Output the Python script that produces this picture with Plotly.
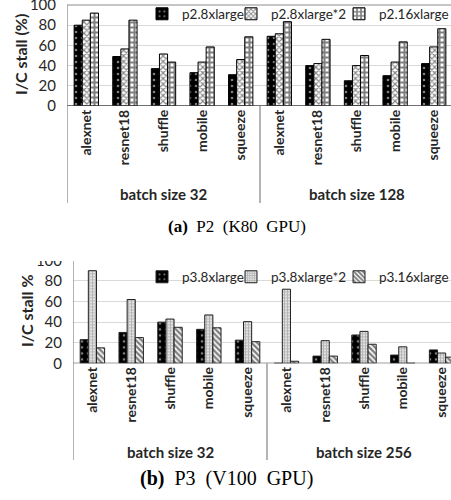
import plotly.graph_objects as go

# ---------------- data ----------------
MODELS = ["alexnet", "resnet18", "shuffle", "mobile", "squeeze"]

P2_BATCHES = ["batch size 32", "batch size 128"]
P2_SERIES = ["p2.8xlarge", "p2.8xlarge*2", "p2.16xlarge"]
p2_8xlarge = [80, 49, 37, 33, 31, 69, 40, 25, 30, 42]
p2_8xlarge_x2 = [85, 56.5, 51.5, 43.5, 46, 71.5, 42, 40, 43.5, 58.5]
p2_16xlarge = [92, 85, 43.5, 58.5, 68.5, 83.5, 66, 50, 63.5, 76.5]

P3_BATCHES = ["batch size 32", "batch size 256"]
P3_SERIES = ["p3.8xlarge", "p3.8xlarge*2", "p3.16xlarge"]
p3_8xlarge = [23, 30, 40, 33, 22.5, 0, 7, 27.5, 8, 13]
p3_8xlarge_x2 = [90, 62, 43, 47, 40.5, 72, 22, 31, 16, 10]
p3_16xlarge = [15, 25, 35, 34.5, 21, 2, 7, 18.5, 0, 6]

Y_TICKS = [0, 20, 40, 60, 80, 100]

# ---------------- helpers ----------------
W, H = 451, 500
FONT = "Lato"
TXT = "#262626"


def py(px):
    return 1 - px / H


def pxx(px):
    return px / W


def positions(batches):
    return list(range(len(MODELS) * len(batches)))


STYLES = [
    dict(color="black", pattern=dict(shape=".", fgcolor="white", bgcolor="black",
                                     size=6, solidity=0.15, fillmode="overlay")),
    dict(color="white", pattern=dict(shape="x", fgcolor="#111111", bgcolor="white",
                                     size=4, solidity=0.5, fillmode="overlay")),
    dict(color="white", pattern=dict(shape="+", fgcolor="black", bgcolor="white",
                                     size=5, solidity=0.65, fillmode="overlay")),
]
STYLES_P3 = [
    STYLES[0],
    dict(color="white", pattern=dict(shape="+", fgcolor="#6e6e6e", bgcolor="white",
                                     size=3, solidity=0.7, fillmode="overlay")),
    dict(color="white", pattern=dict(shape="\\", fgcolor="black", bgcolor="white",
                                     size=4, solidity=0.6, fillmode="overlay")),
]

# legend text start positions (px) for each series
P2_LEG_X = [172, 261, 369]
P3_LEG_X = [172, 261, 369]

fig = go.Figure()
legend_layouts = {}

xs2 = positions(P2_BATCHES)
for i, (name, vals, st) in enumerate(zip(P2_SERIES, [p2_8xlarge, p2_8xlarge_x2, p2_16xlarge], STYLES)):
    lg = "legend" if i == 0 else "legend%d" % (i + 1)
    fig.add_trace(go.Bar(
        x=xs2, y=vals, name=name, xaxis="x", yaxis="y", legend=lg,
        marker=dict(color=st["color"], pattern=st["pattern"],
                    line=dict(color="black", width=1)),
    ))
    legend_layouts[lg] = dict(x=pxx(P2_LEG_X[i] - 30), y=py(14))

xs3 = positions(P3_BATCHES)
for i, (name, vals, st) in enumerate(zip(P3_SERIES, [p3_8xlarge, p3_8xlarge_x2, p3_16xlarge], STYLES_P3)):
    lg = "legend%d" % (i + 4)
    fig.add_trace(go.Bar(
        x=xs3, y=vals, name=name, xaxis="x2", yaxis="y2", legend=lg,
        marker=dict(color=st["color"], pattern=st["pattern"],
                    line=dict(color="#222222", width=1)),
    ))
    legend_layouts[lg] = dict(x=pxx(P3_LEG_X[i] - 30), y=py(277))

for lg, pos in legend_layouts.items():
    fig.update_layout({lg: dict(orientation="h", x=pos["x"], y=pos["y"], xanchor="left",
                                yanchor="middle", bgcolor="rgba(0,0,0,0)",
                                font=dict(family=FONT, size=13.5, color=TXT), itemwidth=30)})

ticktext2 = ["<b>%s</b>" % m for m in MODELS] * len(P2_BATCHES)
ticktext3 = ["<b>%s</b>" % m for m in MODELS] * len(P3_BATCHES)

xaxis_common = dict(
    tickmode="array", tickangle=-90, showgrid=False, zeroline=False,
    showline=False, ticks="", automargin=False,
    tickfont=dict(family=FONT, size=14, color=TXT),
)
yaxis_common = dict(
    range=[0, 100], tickvals=Y_TICKS, showgrid=True, gridcolor="#d9d9d9",
    gridwidth=1, zeroline=False, showline=False, ticks="", automargin=False,
    ticklabelstandoff=10, ticklabeloverflow="allow",
    tickfont=dict(family=FONT, size=15, color=TXT),
)

n2 = len(xs2)
n3 = len(xs3)

fig.update_layout(
    width=W, height=H,
    margin=dict(l=0, r=0, t=0, b=0, autoexpand=False),
    paper_bgcolor="white", plot_bgcolor="white",
    barmode="group", bargap=0.37, bargroupgap=0,
    xaxis=dict(xaxis_common, domain=[pxx(67), 1], range=[-0.5, n2 - 0.5 - 2 / 38.6],
               tickvals=xs2, ticktext=ticktext2, anchor="y"),
    yaxis=dict(yaxis_common, domain=[py(106), py(5)], anchor="x"),
    xaxis2=dict(xaxis_common, domain=[pxx(73), 1], range=[-0.5, n3 - 0.5 - 10 / 38.8],
                tickvals=xs3, ticktext=ticktext3, anchor="y2"),
    yaxis2=dict(yaxis_common, domain=[py(363.3), py(260.4)], anchor="x2"),
    showlegend=True,
)

shapes = []
# top chart frame / axis lines / dividers
shapes.append(dict(type="line", xref="paper", yref="paper", x0=pxx(67), x1=1, y0=py(5), y1=py(5),
                   line=dict(color="#8c8c8c", width=1)))
shapes.append(dict(type="line", xref="x", yref="y", x0=-0.5, x1=n2, y0=0, y1=0,
                   line=dict(color="#404040", width=1.3)))
shapes.append(dict(type="line", xref="x", yref="paper", x0=-0.5, x1=-0.5, y0=py(5), y1=py(203),
                   line=dict(color="#8c8c8c", width=1.3)))
for k in range(1, len(P2_BATCHES)):
    xd = k * len(MODELS) - 0.5
    shapes.append(dict(type="line", xref="x", yref="paper", x0=xd, x1=xd, y0=py(106), y1=py(203),
                       line=dict(color="#8c8c8c", width=1.3)))
# bottom chart
shapes.append(dict(type="line", xref="x2", yref="y2", x0=-0.5, x1=n3, y0=0, y1=0,
                   line=dict(color="#404040", width=1.3)))
shapes.append(dict(type="line", xref="x2", yref="paper", x0=-0.5, x1=-0.5, y0=py(255), y1=py(460),
                   line=dict(color="#8c8c8c", width=1.3)))
for k in range(1, len(P3_BATCHES)):
    xd = k * len(MODELS) - 0.5
    shapes.append(dict(type="line", xref="x2", yref="paper", x0=xd, x1=xd, y0=py(363.3), y1=py(460),
                       line=dict(color="#8c8c8c", width=1.3)))
# crop of the bottom panel's top edge (as in the reference image)
shapes.append(dict(type="rect", xref="paper", yref="paper", x0=0, x1=1, y0=py(261), y1=py(243),
                   fillcolor="white", line=dict(width=0), layer="above"))
fig.update_layout(shapes=shapes)

ann = []
# y-axis titles
ann.append(dict(text="<b>I/C stall (%)</b>", xref="paper", yref="paper", x=pxx(21), y=py(55),
                textangle=-90, xanchor="center", yanchor="middle", showarrow=False,
                font=dict(family=FONT, size=16, color=TXT)))
ann.append(dict(text="<b>I/C stall %</b>", xref="paper", yref="paper", x=pxx(26), y=py(311),
                textangle=-90, xanchor="center", yanchor="middle", showarrow=False,
                font=dict(family=FONT, size=16, color=TXT)))
for i, b in enumerate(P2_BATCHES):
    ann.append(dict(text="<b>%s</b>" % b, xref="x", yref="paper",
                    x=i * len(MODELS) + (len(MODELS) - 1) / 2, y=py(194), yanchor="middle",
                    showarrow=False, font=dict(family=FONT, size=15, color=TXT)))
for i, b in enumerate(P3_BATCHES):
    ann.append(dict(text="<b>%s</b>" % b, xref="x2", yref="paper",
                    x=i * len(MODELS) + (len(MODELS) - 1) / 2, y=py(452), yanchor="middle",
                    showarrow=False, font=dict(family=FONT, size=15, color=TXT)))
ann.append(dict(text="<b>(a)</b>  P2  (K80  GPU)", xref="paper", yref="paper",
                x=pxx(237), y=py(227), yanchor="middle", showarrow=False,
                font=dict(family="Liberation Serif", size=17, color="black")))
ann.append(dict(text="<b>(b)</b>  P3  (V100  GPU)", xref="paper", yref="paper",
                x=pxx(226), y=py(478), yanchor="middle", showarrow=False,
                font=dict(family="Liberation Serif", size=20, color="black")))
fig.update_layout(annotations=ann)

fig.write_html("out.html", config={"displayModeBar": False},
               post_script="document.body.style.margin='0';")
